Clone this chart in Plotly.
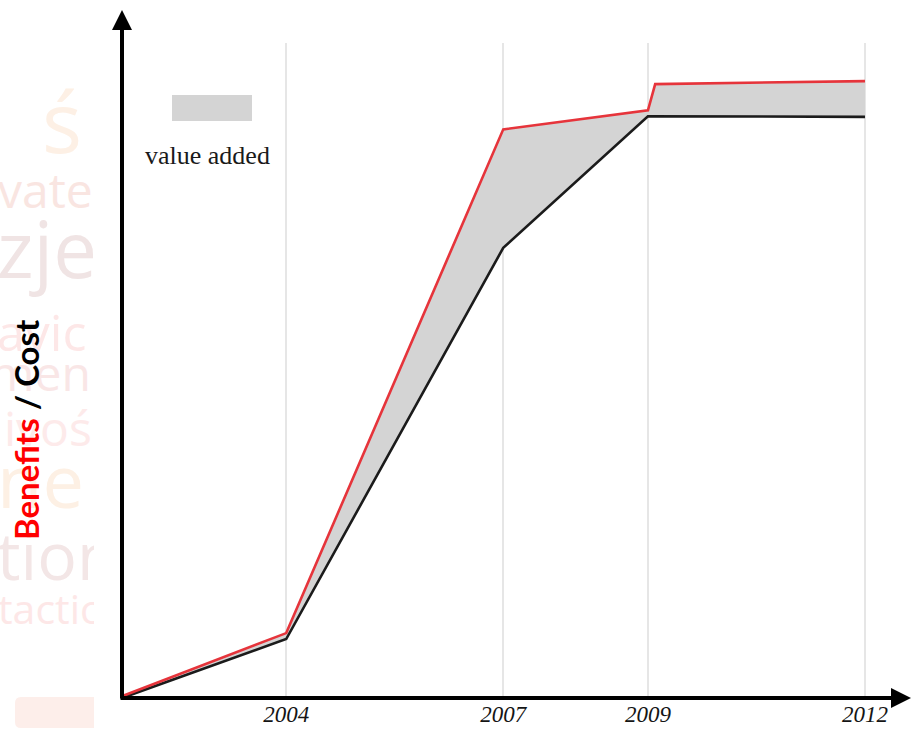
import plotly.graph_objects as go

W, H = 912, 731

# ---- data -------------------------------------------------------------
cost_years = [2001.73, 2004, 2007, 2009, 2012]
cost_values = [0.0, 9.9, 75.6, 97.7, 97.6]

benefit_years = [2001.73, 2004, 2007, 2009, 2009.1, 2012]
benefit_values = [0.3, 10.9, 95.5, 98.7, 103.1, 103.6]

tick_years = [2004, 2007, 2009, 2012]
tick_labels = ["2004", "2007", "2009", "2012"]

legend_label = "value added"

# faded word-cloud fragments in the left margin
cloud_words = ["ś", "vate", "zje", "avic", "men", "ivoś", "ne", "tion", "tactic"]

# ---- styling ----------------------------------------------------------
X_RANGE = [2001.73, 2012.65]
Y_RANGE = [0, 110]
RED = "#e6343b"
BLACK = "#1b1b1b"
FILL = "#d4d4d4"

# (left px, centre px, font size, colour) for each cloud word
cloud_style = [
    (42, 132, 84, "#fdf0e5"),
    (-2, 196, 48, "#f9e5e1"),
    (-3, 258, 78, "#f0e4e4"),
    (-3, 338, 50, "#fde7e7"),
    (-10, 379, 48, "#f9e6e6"),
    (4, 434, 48, "#fdeaea"),
    (-3, 489, 74, "#fdf0e4"),
    (-3, 563, 66, "#f3e6e6"),
    (-2, 614, 41, "#fde7e7"),
]


def px_x(p):
    return p / W


def px_y(p):
    return 1 - p / H


fig = go.Figure()

# shaded "value added" band between the two curves
fig.add_trace(go.Scatter(x=cost_years, y=cost_values, mode="lines",
                         line=dict(width=0), hoverinfo="skip"))
fig.add_trace(go.Scatter(x=benefit_years, y=benefit_values, mode="lines",
                         line=dict(width=0), fill="tonexty", fillcolor=FILL,
                         hoverinfo="skip"))

# cost and benefit curves
fig.add_trace(go.Scatter(x=cost_years, y=cost_values, mode="lines",
                         line=dict(color=BLACK, width=2.6), name="Cost"))
fig.add_trace(go.Scatter(x=benefit_years, y=benefit_values, mode="lines",
                         line=dict(color=RED, width=2.6), name="Benefits"))

# word cloud, drawn in a small clipped side panel
for word, (lx, cy, size, col) in zip(cloud_words, cloud_style):
    fig.add_trace(go.Scatter(
        x=[lx], y=[cy], mode="text", text=[word],
        textposition="middle right", cliponaxis=True,
        textfont=dict(family="Open Sans", size=size, color=col),
        xaxis="x2", yaxis="y2", hoverinfo="skip"))

fig.add_shape(type="path", xref="x2", yref="y2",
              path="M 21 697 L 110 697 L 110 728 L 21 728 "
                   "Q 15 728 15 722 L 15 703 Q 15 697 21 697 Z",
              fillcolor="#fdeeea", line=dict(width=0), layer="below")

# legend swatch
fig.add_shape(type="rect", xref="paper", yref="paper",
              x0=px_x(172), x1=px_x(252), y0=px_y(121), y1=px_y(95),
              fillcolor=FILL, line=dict(width=0))

annotations = [
    dict(text=legend_label, xref="paper", yref="paper",
         x=px_x(207), y=px_y(155), xanchor="center", yanchor="middle",
         showarrow=False,
         font=dict(family="Liberation Serif", size=26, color="#1a1a1a")),
    dict(text='<b><span style="color:#ff0000">Benefits</span> / Cost</b>',
         xref="paper", yref="paper", x=px_x(26), y=px_y(430),
         xanchor="center", yanchor="middle",
         textangle=-90, showarrow=False,
         font=dict(family="Lato", size=33, color="black")),
    # y axis arrow
    dict(text="", xref="paper", yref="paper", x=px_x(122), y=px_y(10),
         axref="pixel", ayref="pixel", ax=0, ay=690, showarrow=True,
         arrowhead=2, arrowsize=1, arrowwidth=4, arrowcolor="black"),
    # x axis arrow
    dict(text="", xref="paper", yref="paper", x=px_x(911), y=px_y(698),
         axref="pixel", ayref="pixel", ax=-792, ay=0, showarrow=True,
         arrowhead=2, arrowsize=1, arrowwidth=4, arrowcolor="black"),
]

fig.update_layout(
    width=W, height=H,
    margin=dict(l=0, r=0, t=0, b=0),
    paper_bgcolor="white", plot_bgcolor="white",
    showlegend=False,
    annotations=annotations,
    xaxis=dict(domain=[122 / W, 1], range=X_RANGE,
               tickvals=tick_years, ticktext=tick_labels,
               showgrid=True, gridcolor="#e6e6e6", gridwidth=1.5,
               zeroline=False, showline=False, ticks="",
               tickfont=dict(family="Liberation Serif", size=23,
                             color="#151515", style="italic")),
    yaxis=dict(domain=[33 / H, 688 / H], range=Y_RANGE, visible=False),
    xaxis2=dict(domain=[0, 94 / W], range=[0, 94], visible=False,
                anchor="y2"),
    yaxis2=dict(domain=[0, 1], range=[H, 0], visible=False, anchor="x2"),
)

fig.write_html("out.html")
